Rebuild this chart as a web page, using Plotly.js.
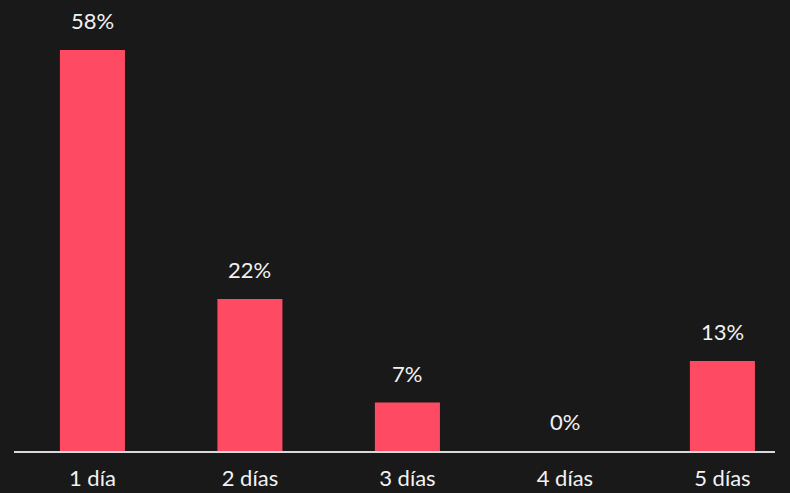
<!DOCTYPE html>
<html>
<head>
<meta charset="utf-8">
<script src="https://cdn.plot.ly/plotly-3.0.1.min.js"></script>
<style>html,body{margin:0;padding:0;background:#191919;}</style>
</head>
<body>
<div id="chart" style="width:790px;height:493px;"></div>
<script>
const categories = ["1 día", "2 días", "3 días", "4 días", "5 días"];
const values = [58, 22, 7, 0, 13];
const valueLabels = ["58%", "22%", "7%", "0%", "13%"];

const FONT = "Lato, 'Noto Sans', sans-serif";

const trace = {
  type: "bar",
  x: categories.map((c, i) => i),
  y: values,
  width: 0.413,
  marker: {color: "#ff4a64"},
  hoverinfo: "none"
};

const annotations = values.map((v, i) => ({
  x: i, y: v, xref: "x", yref: "y",
  text: valueLabels[i], showarrow: false,
  yanchor: "bottom", yshift: 14,
  font: {family: FONT, size: 22, color: "#f2f2f2"}
}));

const layout = {
  width: 790, height: 493,
  paper_bgcolor: "#191919", plot_bgcolor: "#191919",
  margin: {l: 14, r: 15, t: 0, b: 42},
  showlegend: false,
  xaxis: {
    range: [-0.498, 4.334],
    tickvals: categories.map((c, i) => i),
    ticktext: categories,
    showgrid: false, zeroline: false,
    showline: true, linecolor: "#d9d9d9", linewidth: 2,
    ticks: "", ticklabelstandoff: 7,
    tickfont: {family: FONT, size: 22, color: "#f2f2f2"},
    fixedrange: true
  },
  yaxis: {
    range: [0, 65.23],
    visible: false, showgrid: false, zeroline: false,
    fixedrange: true
  },
  annotations: annotations
};

Plotly.newPlot("chart", [trace], layout, {displayModeBar: false, staticPlot: true});
</script>
</body>
</html>
